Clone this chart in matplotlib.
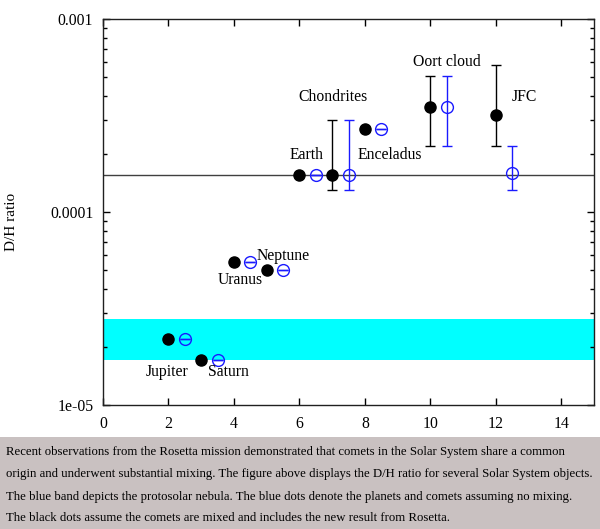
import matplotlib
matplotlib.use("Agg")
import matplotlib.pyplot as plt
import numpy as np
from matplotlib.patches import Rectangle

# ---- data ----
x_mixed = [2, 3, 4, 5, 6, 7, 8, 10, 12]
y_mixed = [2.2e-5, 1.71e-5, 5.5e-5, 5.0e-5, 1.56e-4, 1.56e-4, 2.69e-4, 3.5e-4, 3.18e-4]
lo_mixed = [2.2e-5, 1.71e-5, 5.5e-5, 5.0e-5, 1.56e-4, 1.3e-4, 2.69e-4, 2.2e-4, 2.2e-4]
hi_mixed = [2.2e-5, 1.71e-5, 5.5e-5, 5.0e-5, 1.56e-4, 3.0e-4, 2.69e-4, 5.07e-4, 5.78e-4]

x_nomix = [2.5, 3.5, 4.5, 5.5, 6.5, 7.5, 8.5, 10.5, 12.5]
y_nomix = [2.2e-5, 1.71e-5, 5.5e-5, 5.0e-5, 1.56e-4, 1.56e-4, 2.69e-4, 3.5e-4, 1.6e-4]
lo_nomix = [2.2e-5, 1.71e-5, 5.5e-5, 5.0e-5, 1.56e-4, 1.3e-4, 2.69e-4, 2.2e-4, 1.3e-4]
hi_nomix = [2.2e-5, 1.71e-5, 5.5e-5, 5.0e-5, 1.56e-4, 3.0e-4, 2.69e-4, 5.07e-4, 2.2e-4]

earth_ratio = 1.56e-4
band_low, band_high = 1.71e-5, 2.79e-5

labels = ["Jupiter", "Saturn", "Uranus", "Neptune", "Earth", "Chondrites",
          "Enceladus", "Oort cloud", "JFC"]
label_x = [1.95, 3.82, 4.19, 5.5, 6.23, 7.03, 8.77, 10.5, 12.86]
label_y = [1.48e-5, 1.48e-5, 4.45e-5, 5.9e-5, 1.97e-4, 3.94e-4, 1.97e-4, 5.98e-4, 3.94e-4]

xticks = [0, 2, 4, 6, 8, 10, 12, 14]
yticks = [1e-5, 1e-4, 1e-3]
ytick_labels = ["1e-05", "0.0001", "0.001"]

caption = ["Recent observations from the Rosetta mission demonstrated that comets in the Solar System share a common",
           "origin and underwent substantial mixing. The figure above displays the D/H ratio for several Solar System objects.",
           "The blue band depicts the protosolar nebula. The blue dots denote the planets and comets assuming no mixing.",
           "The black dots assume the comets are mixed and includes the new result from Rosetta."]

# ---- plot ----
plt.rcParams['font.family'] = ['Liberation Serif', 'DejaVu Serif']
fig = plt.figure(figsize=(6, 5.29), dpi=100)
ax = fig.add_axes([103/600, 1-405/529, (594-103)/600, (405-19)/529])

ax.set_yscale('log')
ax.set_xlim(0, 15)
ax.set_ylim(1e-5, 1e-3)

ax.axhspan(band_low, band_high, color='#00ffff', lw=0, zorder=1)
ax.axhline(earth_ratio, color='#404040', lw=1.0, zorder=2)

y_m = np.array(y_mixed)
ax.errorbar(x_mixed, y_mixed,
            yerr=[y_m - np.array(lo_mixed), np.array(hi_mixed) - y_m],
            fmt='o', color='black', ms=8, elinewidth=1, capsize=3.5, capthick=1, zorder=4)
y_n = np.array(y_nomix)
ax.errorbar(x_nomix, y_nomix,
            yerr=[y_n - np.array(lo_nomix), np.array(hi_nomix) - y_n],
            fmt='o', color='#1a1aff', mfc='none', mec='#1a1aff', mew=1.0, ms=8.5,
            elinewidth=1, capsize=3.5, capthick=1, zorder=4)

for t, lx, ly in zip(labels, label_x, label_y):
    ax.text(lx, ly, t, ha='center', va='center', fontsize=11.3, color='black', zorder=5)

ax.set_xticks(xticks)
ax.set_yticks(yticks)
ax.set_yticklabels(ytick_labels)
ax.tick_params(which='both', direction='in', top=True, right=True, labelsize=11.3)
ax.tick_params(axis='x', pad=8)
ax.tick_params(axis='y', pad=7)
ax.tick_params(which='major', length=5, width=1)
ax.tick_params(which='minor', length=3, width=1)
ax.tick_params(axis='x', which='minor', top=False, bottom=False)
for s in ax.spines.values():
    s.set_color('#202020')
    s.set_linewidth(1)

fig.text(12/600, 1-222/529, "D/H ratio", rotation=90, ha='center', va='center', fontsize=11)

fig.patches.append(Rectangle((0, 0), 1, (529-437)/529, transform=fig.transFigure,
                             facecolor='#c9c1c1', edgecolor='none', zorder=0))
line_y = [452, 474, 497, 518]
for t, yy in zip(caption, line_y):
    fig.text(6/600, 1-yy/529, t, ha='left', va='center', fontsize=9.15)

fig.savefig("out.png", dpi=100)
